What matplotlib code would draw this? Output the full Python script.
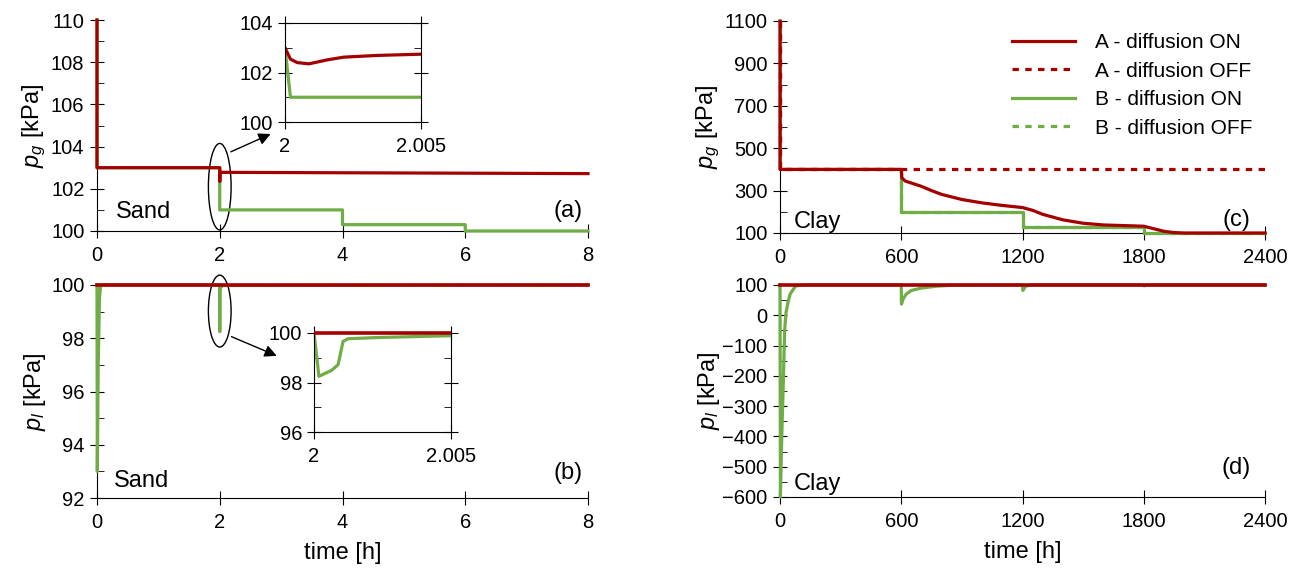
import matplotlib
matplotlib.use("Agg")
import matplotlib.pyplot as plt
from matplotlib.patches import Ellipse
from matplotlib.ticker import MultipleLocator
from matplotlib.transforms import Bbox, TransformedBbox

plt.rcParams["font.family"] = "Liberation Sans"
plt.rcParams["mathtext.fontset"] = "custom"
plt.rcParams["mathtext.rm"] = "Liberation Sans"
plt.rcParams["mathtext.it"] = "Liberation Sans:italic"

RED = "#A50000"
GREEN = "#70AD47"
TICK_FS = 14.5
TEXT_FS = 17

# (a) sand, gas pressure [kPa] vs time [h]
t_a_red = [0, 0, 2, 2.0002, 2.00045, 2.00088, 2.00155, 2.00216, 2.00339, 2.005, 2.01, 8]
pg_a_red = [110, 103, 103, 102.54, 102.4, 102.35, 102.51, 102.62, 102.69, 102.74, 102.78, 102.72]
t_a_green = [0, 0, 2, 2.0002, 4, 4, 6, 6, 8]
pg_a_green = [110, 103, 103, 101.0, 101.0, 100.3, 100.3, 100.0, 100.0]

# (b) sand, liquid pressure [kPa]
t_b_red = [0, 8]
pl_b_red = [100, 100]
t_b_green = [0, 0.005, 0.02, 0.04, 0.06, 2, 2.00018, 2.00064, 2.00088, 2.00106,
             2.00125, 2.0024, 2.005, 2.05, 8]
pl_b_green = [100, 93, 97, 99.5, 100, 100, 98.25, 98.49, 98.72, 99.66,
              99.77, 99.82, 99.89, 99.98, 100]

# (c) clay, gas pressure [kPa]
t_c_red_on = [0, 0, 600, 603, 620, 700, 750, 800, 900, 1000, 1100, 1200, 1250,
              1300, 1400, 1500, 1600, 1700, 1800, 1850, 1900, 1950, 2000, 2400]
pg_c_red_on = [1100, 400, 400, 360, 345, 320, 300, 282, 258, 242, 230, 220, 207,
               188, 162, 146, 138, 135, 132, 120, 108, 102, 100, 100]
t_c_red_off = [0, 0, 2400]
pg_c_red_off = [1100, 400, 400]
t_c_green = [0, 0, 600, 600, 1200, 1200, 1800, 1800, 2400]
pg_c_green = [1100, 400, 400, 200, 200, 130, 130, 100, 100]

# (d) clay, liquid pressure [kPa]
t_d_red = [0, 2400]
pl_d_red = [100, 100]
t_d_green = [0, 2, 8, 11, 15, 23, 30, 39, 50, 77, 120, 600, 601, 610, 625, 650,
             700, 775, 850, 1200, 1202, 1215, 1240, 1800, 1802, 1815, 2400]
pl_d_green = [100, -600, -420, -345, -256, -49, 10, 41, 70, 97, 100, 100, 37, 55,
              70, 82, 90, 96, 99, 100, 82, 96, 100, 100, 97, 100, 100]

legend_labels = ["A - diffusion ON", "A - diffusion OFF", "B - diffusion ON", "B - diffusion OFF"]

W, H = 1316, 571
fig = plt.figure(figsize=(W / 100, H / 100), dpi=100)


def px_axes(l, t, r, b):
    return fig.add_axes([l / W, 1 - b / H, (r - l) / W, (b - t) / H])


def style_main(ax, xmax, xstep, ymin, ymax, ystep, yminor):
    ax.set_xlim(0, xmax)
    ax.set_ylim(ymin, ymax)
    ax.spines["top"].set_visible(False)
    ax.spines["right"].set_visible(False)
    ax.xaxis.set_major_locator(MultipleLocator(xstep))
    ax.set_yticks(list(range(ymin, ymax + 1, ystep)))
    ax.set_yticks(list(range(ymin, ymax + 1, yminor)), minor=True)
    ax.tick_params(axis="x", which="major", direction="inout", length=10, pad=6, labelsize=TICK_FS)
    ax.tick_params(axis="y", which="major", direction="inout", length=10, pad=4, labelsize=TICK_FS)
    ax.tick_params(axis="y", which="minor", direction="in", length=5)
    ax.patch.set_alpha(0)


def style_inset(ax, ymin, ymax):
    ax.set_xlim(2, 2.005)
    ax.set_ylim(ymin, ymax)
    ax.set_xticks([2, 2.005])
    ax.set_xticklabels(["2", "2.005"])
    ax.yaxis.set_major_locator(MultipleLocator(2))
    ax.yaxis.set_minor_locator(MultipleLocator(1))
    ax.tick_params(axis="both", which="major", direction="inout", length=10,
                   left=True, right=True, top=True, labelsize=TICK_FS)
    ax.tick_params(axis="x", pad=6)
    ax.tick_params(axis="y", which="minor", direction="in", length=5, left=True, right=True)


def loose_clip(ax, line):
    # keep a line that sits on the top edge fully visible, but only inside the x range
    line.set_clip_box(TransformedBbox(Bbox([[0, -0.05], [1, 1.05]]), ax.transAxes))


# panel (a)
ax_a = px_axes(97, 20, 588, 231)
ax_a.plot(t_a_green, pg_a_green, color=GREEN, lw=2.3, zorder=3, clip_on=False)
ax_a.plot(t_a_red, pg_a_red, color=RED, lw=2.3, zorder=3, clip_on=False)
style_main(ax_a, 8, 2, 100, 110, 2, 1)
ax_a.set_ylabel(r"$p_g$ [kPa]", fontsize=TEXT_FS)
ax_a.yaxis.set_label_coords(-0.1, 0.5)
ax_a.text(0.3, 100.6, "Sand", fontsize=TEXT_FS)
ax_a.text(7.92, 100.65, "(a)", fontsize=TEXT_FS, ha="right")
ax_a.add_patch(Ellipse((2, 102.1), 0.37, 4.1, fill=False, lw=1, clip_on=False))
ax_a.annotate("", xy=(2.87, 104.65), xytext=(2.14, 103.7),
              arrowprops=dict(arrowstyle="-|>", color="black", lw=1, mutation_scale=18))

ins_a = px_axes(285, 23, 421, 122)
ins_a.plot(t_a_green, pg_a_green, color=GREEN, lw=2.3)
ins_a.plot(t_a_red, pg_a_red, color=RED, lw=2.3)
style_inset(ins_a, 100, 104)

# panel (b)
ax_b = px_axes(97, 285, 588, 498)
ax_b.plot(t_b_green, pl_b_green, color=GREEN, lw=2.3, zorder=3, clip_on=False)
ax_b.plot(t_b_red, pl_b_red, color=RED, lw=2.6, zorder=3, clip_on=False)
style_main(ax_b, 8, 2, 92, 100, 2, 1)
ax_b.set_ylabel(r"$p_l$ [kPa]", fontsize=TEXT_FS)
ax_b.yaxis.set_label_coords(-0.1, 0.5)
ax_b.set_xlabel("time [h]", fontsize=TEXT_FS, labelpad=7)
ax_b.text(0.27, 92.4, "Sand", fontsize=TEXT_FS)
ax_b.text(7.92, 92.7, "(b)", fontsize=TEXT_FS, ha="right")
ax_b.add_patch(Ellipse((2, 99.02), 0.37, 2.7, fill=False, lw=1, clip_on=False))
ax_b.annotate("", xy=(2.97, 97.3), xytext=(2.15, 98.1),
              arrowprops=dict(arrowstyle="-|>", color="black", lw=1, mutation_scale=18))

ins_b = px_axes(314, 333, 451, 432)
ins_b.plot(t_b_green, pl_b_green, color=GREEN, lw=2.3)
red_b, = ins_b.plot(t_b_red, pl_b_red, color=RED, lw=2.6, zorder=3)
loose_clip(ins_b, red_b)
style_inset(ins_b, 96, 100)

# panel (c)
ax_c = px_axes(780, 21, 1265, 233)
ax_c.plot(t_c_green, pg_c_green, color=GREEN, lw=2.3, ls=(0, (2, 2)), zorder=3, clip_on=False)
ax_c.plot(t_c_green, pg_c_green, color=GREEN, lw=2.3, zorder=3, clip_on=False)
ax_c.plot(t_c_red_off, pg_c_red_off, color=RED, lw=2.3, ls=(0, (2, 2)), zorder=3, clip_on=False)
ax_c.plot(t_c_red_on, pg_c_red_on, color=RED, lw=2.3, zorder=3, clip_on=False)
style_main(ax_c, 2400, 600, 100, 1100, 200, 100)
ax_c.set_ylabel(r"$p_g$ [kPa]", fontsize=TEXT_FS)
ax_c.yaxis.set_label_coords(-0.12, 0.5)
ax_c.text(70, 124, "Clay", fontsize=TEXT_FS)
ax_c.text(2330, 132, "(c)", fontsize=TEXT_FS, ha="right")
handles = [
    plt.Line2D([], [], color=RED, lw=2.3),
    plt.Line2D([], [], color=RED, lw=2.3, ls=(0, (2, 2))),
    plt.Line2D([], [], color=GREEN, lw=2.3),
    plt.Line2D([], [], color=GREEN, lw=2.3, ls=(0, (2, 2))),
]
ax_c.legend(handles, legend_labels, loc="upper left", bbox_to_anchor=(0.44, 1.03), frameon=False,
            fontsize=15, handlelength=3.0, handletextpad=1.0, labelspacing=0.45)

# panel (d)
ax_d = px_axes(780, 285, 1265, 497)
ax_d.plot(t_d_green, pl_d_green, color=GREEN, lw=2.3, zorder=3, clip_on=False)
ax_d.plot(t_d_red, pl_d_red, color=RED, lw=2.6, zorder=3, clip_on=False)
style_main(ax_d, 2400, 600, -600, 100, 100, 50)
ax_d.set_ylabel(r"$p_l$ [kPa]", fontsize=TEXT_FS)
ax_d.yaxis.set_label_coords(-0.12, 0.5)
ax_d.set_xlabel("time [h]", fontsize=TEXT_FS, labelpad=7)
ax_d.text(70, -578, "Clay", fontsize=TEXT_FS)
ax_d.text(2330, -525, "(d)", fontsize=TEXT_FS, ha="right")

fig.savefig("out.png", dpi=100)
